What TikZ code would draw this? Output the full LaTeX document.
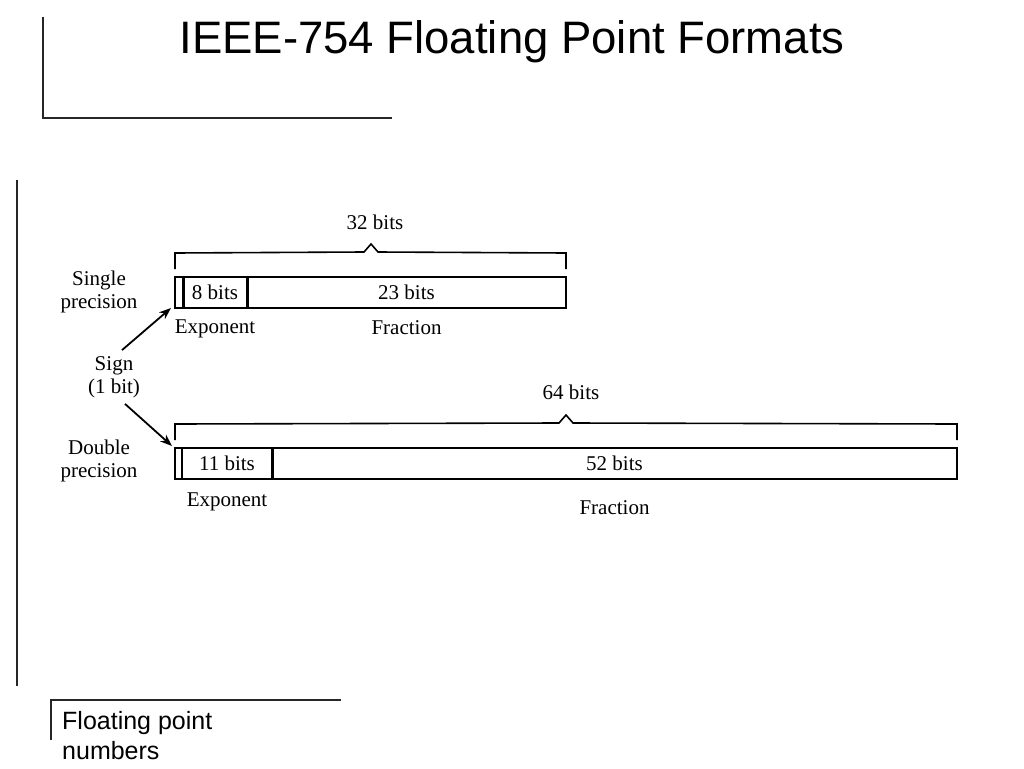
\documentclass[tikz,border=0pt]{standalone}
\usepackage{fontspec}
\setmainfont{Liberation Serif}
\newfontfamily\slidefont{Liberation Sans}
\usetikzlibrary{arrows.meta,positioning}

\begin{document}
\begin{tikzpicture}[x=1pt,y=-1pt,
      cell/.style={draw,line width=1.6pt,minimum height=31pt,inner sep=0pt,outer sep=0pt,anchor=north west,font=\fontsize{21}{23}\selectfont},
      lbl/.style={align=center,inner sep=0pt,font=\fontsize{21}{23}\selectfont},
      rule/.style={line width=1.6pt},
      divider/.style={line width=3pt},
      frame/.style={line width=1.2pt,black!85},
      >={Stealth[length=12pt,width=9pt]}]
    \useasboundingbox (0,0) rectangle (1024,768);
    % slide frame
    \draw[frame] (43,17) -- (43,118) -- (392,118);
    \draw[frame] (17,180) -- (17,686);
    \draw[frame] (51,740) -- (51,700) -- (341,700);
    \node[inner sep=0pt,font=\slidefont\fontsize{45.5}{50}\selectfont] (title) at (512,42) {IEEE-754 Floating Point Formats};
    \node[inner sep=0pt,anchor=north west,align=left,font=\slidefont\fontsize{25}{30}\selectfont] (foot) at (62,711) {Floating point\\numbers};
    % single precision
    \node[cell,minimum width=8pt] (s0) at (175,277) {};
    \node[cell,minimum width=64pt] (s1) at (s0.north east) {8 bits};
    \node[cell,minimum width=319pt] (s2) at (s1.north east) {23 bits};
    \draw[divider] (s0.north east) -- (s0.south east);
    \draw[divider] (s1.north east) -- (s1.south east);
    \draw[rule] ([yshift=8pt]s0.north west) -- ++(0,-16) -- (364,252) -- (371,244) -- (378,252)
      -- ([yshift=24pt]s2.north east) -- ++(0,16);
    \node[lbl] (s32) at (375,222) {32 bits};
    \node[lbl,below=12pt of s1] (sexp) {Exponent};
    \node[lbl,below=12pt of s2] (sfrac) {Fraction};
    \node[lbl] (single) at (99,292) {Single\\precision};
    % double precision
    \node[cell,minimum width=7pt] (d0) at (175,448) {};
    \node[cell,minimum width=90pt] (d1) at (d0.north east) {11 bits};
    \node[cell,minimum width=685pt] (d2) at (d1.north east) {52 bits};
    \draw[rule] (d0.north east) -- (d0.south east);
    \draw[divider] (d1.north east) -- (d1.south east);
    \draw[rule] ([yshift=8pt]d0.north west) -- ++(0,-16) -- (559,423) -- (566,415) -- (573,423)
      -- ([yshift=24pt]d2.north east) -- ++(0,16);
    \node[lbl] (d64) at (571,392) {64 bits};
    \node[lbl,below=14pt of d1] (dexp) {Exponent};
    \node[lbl,below=21pt of d2] (dfrac) {Fraction};
    \node[lbl] (double) at (99,461) {Double\\precision};
    % sign bit
    \node[lbl] (sign) at (114,377) {Sign\\(1 bit)};
    \draw[->,line width=1.8pt] ([shift={(8pt,6pt)}]sign.north) -- ([xshift=-4pt]s0.south west);
    \draw[->,line width=1.8pt] ([shift={(11pt,-6pt)}]sign.south) -- ([shift={(-3pt,2pt)}]d0.north west);
  \end{tikzpicture}
\end{document}
